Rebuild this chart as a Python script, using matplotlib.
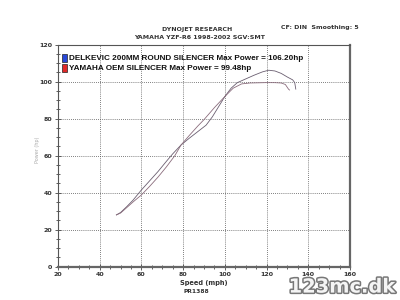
import matplotlib
matplotlib.use("Agg")
import matplotlib.pyplot as plt
import matplotlib.patheffects as pe
from matplotlib.patches import Rectangle
from matplotlib.ticker import MultipleLocator

# Delkevic 200mm round silencer
delk_mph = [48, 50, 53, 56, 60, 64, 68, 72, 75, 79, 83, 87, 91, 94, 97, 100,
            103, 106, 110, 114, 118, 121, 124, 127, 130, 132.5, 133.5, 134]
delk_hp = [28, 29.3, 32.5, 36, 41.5, 46.5, 51.5, 57, 61, 65.8, 69.5, 73, 76.5, 81, 86.5, 92,
           96.5, 99.5, 101.5, 103.5, 105.3, 106.2, 105.8, 104.5, 102.5, 101, 99.5, 96]

# Yamaha OEM silencer
oem_mph = [48, 50, 53, 56, 60, 64, 68, 72, 76, 79, 83, 87, 90, 95, 100,
           104, 108, 112, 116, 120, 124, 127, 129, 130.5, 131]
oem_hp = [28, 29, 32, 35, 38.8, 43.5, 48.5, 54, 60, 65.8, 71, 76, 79.5, 86, 92,
          96.5, 98.8, 99.3, 99.4, 99.5, 99.48, 99.3, 98.5, 96, 95.5]

labels = ["DELKEVIC 200MM ROUND SILENCER Max Power = 106.20hp",
          "YAMAHA OEM SILENCER Max Power = 99.48hp"]
box_colors = ["#2848d8", "#e02828"]

fig = plt.figure(figsize=(4, 3), dpi=100)
fig.patch.set_facecolor("white")
ax = fig.add_axes([0.145, 0.111, 0.73, 0.74])

ax.plot(delk_mph, delk_hp, color="#6a5e70", lw=0.6)
ax.plot(oem_mph, oem_hp, color="#8a6c7c", lw=0.6)

ax.set_xlim(20, 160)
ax.set_ylim(0, 120)
ax.xaxis.set_major_locator(MultipleLocator(20))
ax.yaxis.set_major_locator(MultipleLocator(20))
ax.xaxis.set_minor_locator(MultipleLocator(5))
ax.yaxis.set_minor_locator(MultipleLocator(5))
ax.grid(True, which="major", color="#555555", ls=(0, (1, 1.5)), lw=0.6)
ax.tick_params(which="both", direction="inout", color="#444444", width=0.6,
               labelsize=4.5, labelcolor="#333333", pad=2)
ax.tick_params(which="major", length=4)
ax.tick_params(which="minor", length=3)
ax.tick_params(axis="x", top=False)
ax.tick_params(axis="y", right=False)
for lab in ax.get_xticklabels() + ax.get_yticklabels():
    lab.set_fontweight("bold")
for side in ["left", "top"]:
    ax.spines[side].set_color("#555555")
    ax.spines[side].set_linewidth(0.8)
for side in ["right", "bottom"]:
    ax.spines[side].set_color("#666666")
    ax.spines[side].set_linewidth(1.6)

# legend text with coloured boxes
for i, (txt, c) in enumerate(zip(labels, box_colors)):
    y = 0.94 - i * 0.045
    ax.add_patch(Rectangle((0.012, y - 0.017), 0.02, 0.034, transform=ax.transAxes,
                           facecolor=c, edgecolor="#222222", lw=0.5, zorder=5))
    ax.text(0.036, y, txt, transform=ax.transAxes, fontsize=5.9, fontweight="bold",
            family="Liberation Sans", va="center", ha="left", color="#111111")

ax.set_xlabel("Speed (mph)", fontsize=4.8, fontweight="bold", color="#333333", labelpad=2)
fig.text(0.095, 0.5, "Power (hp)", rotation=90, fontsize=3.5, color="#aaaaaa",
         ha="center", va="center")

fig.text(0.493, 0.903, "DYNOJET RESEARCH", fontsize=4.5, fontweight="bold",
         color="#333333", ha="center", va="center")
fig.text(0.5, 0.874, "YAMAHA YZF-R6 1998-2002 SGV:SMT", fontsize=4.5, fontweight="bold",
         color="#333333", ha="center", va="center")
fig.text(0.8, 0.907, "CF: DIN  Smoothing: 5", fontsize=4.5, fontweight="bold",
         color="#333333", ha="center", va="center")
fig.text(0.492, 0.027, "PR1388", fontsize=4.3, fontweight="bold",
         color="#333333", ha="center", va="center")

fig.text(0.855, 0.043, "123mc.dk", fontsize=14, fontweight="bold", color="#f4f4f4",
         ha="center", va="center",
         path_effects=[pe.withStroke(linewidth=2.2, foreground="#777777")])

fig.savefig("out.png", dpi=100)
